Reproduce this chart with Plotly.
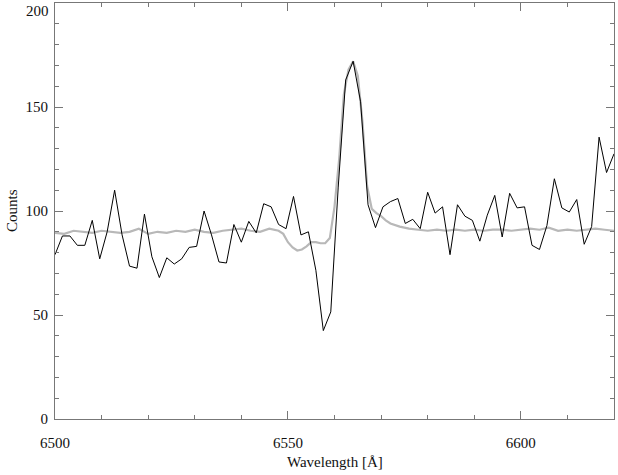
import plotly.graph_objects as go

# observed spectrum (black), ~1.6 A sampling
wave_obs = [6500.0, 6501.6, 6503.2, 6504.8, 6506.4, 6508.0, 6509.6, 6511.2, 6512.8, 6514.4,
            6516.0, 6517.6, 6519.2, 6520.8, 6522.4, 6524.0, 6525.6, 6527.2, 6528.8, 6530.4,
            6532.0, 6533.6, 6535.2, 6536.8, 6538.4, 6540.0, 6541.6, 6543.2, 6544.8, 6546.4,
            6548.0, 6549.6, 6551.2, 6552.8, 6554.4, 6556.0, 6557.6, 6559.2, 6560.8, 6562.4,
            6564.0, 6565.6, 6567.2, 6568.8, 6570.4, 6572.0, 6573.6, 6575.2, 6576.8, 6578.4,
            6580.0, 6581.6, 6583.2, 6584.8, 6586.4, 6588.0, 6589.6, 6591.2, 6592.8, 6594.4,
            6596.0, 6597.6, 6599.2, 6600.8, 6602.4, 6604.0, 6605.6, 6607.2, 6608.8, 6610.4,
            6612.0, 6613.6, 6615.2, 6616.8, 6618.4, 6620.0]
counts_obs = [79, 88, 88, 83.5, 83.5, 95.5, 77, 90, 110, 88.5,
              73.5, 72.5, 98.5, 78, 68, 77.5, 74.5, 77, 82.5, 83,
              100, 88.5, 75.5, 75, 93.5, 85, 95, 89.5, 103.5, 102,
              93.5, 91.5, 107, 88.5, 90, 71.5, 42.5, 51.5, 111.5, 163,
              172, 152.5, 103, 92, 102, 104.5, 106, 94, 96, 91.5,
              109, 99, 102, 79, 103, 97.5, 95.5, 85.5, 98, 107.5,
              87.5, 108.5, 101.5, 102, 83.5, 81.5, 93, 115.5, 101.5, 99.5,
              105.5, 84, 92.5, 135.5, 118.5, 127.5]

# model spectrum (grey)
wave_mod = [6500, 6502, 6504, 6506, 6508, 6510, 6512, 6514, 6516, 6518,
            6520, 6522, 6524, 6526, 6528, 6530, 6532, 6534, 6536, 6538,
            6540, 6542, 6544, 6546, 6548, 6549, 6550, 6551, 6552, 6553,
            6554, 6555, 6556, 6557, 6558, 6559, 6560, 6561, 6562, 6563,
            6564, 6565, 6566, 6567, 6568, 6569, 6570, 6571, 6572, 6574,
            6576, 6578, 6580, 6582, 6584, 6586, 6588, 6590, 6592, 6594,
            6596, 6598, 6600, 6602, 6604, 6606, 6608, 6610, 6612, 6614,
            6616, 6618, 6620]
counts_mod = [89.5, 89, 90.5, 90, 89.5, 90.5, 90, 89.5, 90, 91.5,
              89, 90, 89.5, 90.5, 90, 91, 90, 89.5, 90.5, 91,
              91.5, 90.5, 90, 91.5, 90.5, 89, 85, 82.5, 81, 81.5,
              83, 85, 85, 84.5, 84.5, 87, 102, 125, 156, 168,
              172, 165, 143, 112, 101, 99, 97.5, 95.5, 94, 92.5,
              91.5, 91, 90.5, 91, 90.5, 91, 90.5, 91, 90.5, 91,
              91, 90.5, 91, 91.5, 91, 92, 90.5, 91, 90.5, 91,
              91.5, 91, 90.5]

x_ticks = [6500, 6550, 6600]
y_ticks = [0, 50, 100, 150, 200]
y_labels = ['0', '50', '100', '150', '']  # top label drawn separately, nudged below the frame

serif = 'Times New Roman, Liberation Serif, serif'
label_font = dict(family=serif, size=15, color='#111')

fig = go.Figure()
fig.add_trace(go.Scatter(x=wave_mod, y=counts_mod, mode='lines',
                         line=dict(color='#b8b8b8', width=2.2)))
fig.add_trace(go.Scatter(x=wave_obs, y=counts_obs, mode='lines',
                         line=dict(color='black', width=1)))

axis_common = dict(
    showgrid=False, zeroline=False, automargin=False,
    showline=True, linecolor='#777', linewidth=1, mirror='allticks',
    ticks='inside', ticklen=8, tickcolor='#777', tickwidth=1,
    tickfont=label_font, ticklabeloverflow='allow',
    minor=dict(ticks='inside', ticklen=4, tickcolor='#777', dtick=10, showgrid=False),
)

fig.update_xaxes(range=[6500, 6620], tickvals=x_ticks, ticklabelstandoff=10, **axis_common)
fig.update_yaxes(range=[0, 200], tickvals=y_ticks, ticktext=y_labels,
                 ticklabelstandoff=3, **axis_common)

fig.add_annotation(text='200', xref='paper', yref='y', x=0, y=200,
                   xanchor='right', yanchor='middle', xshift=-4, yshift=-8,
                   showarrow=False, font=label_font)

# axis titles placed as annotations
fig.add_annotation(text='Wavelength [Å]', xref='paper', yref='paper', x=0.5, y=0,
                   yshift=-43, showarrow=False, yanchor='middle', font=label_font)
fig.add_annotation(text='Counts', xref='paper', yref='paper', x=0, y=0.5,
                   xshift=-43, showarrow=False, textangle=-90, xanchor='center',
                   font=label_font)

fig.update_layout(
    width=618, height=475,
    margin=dict(l=55, r=4, t=3, b=56, autoexpand=False),
    paper_bgcolor='white', plot_bgcolor='white',
    showlegend=False,
)

# drop the default page margin so the figure sits at the window origin
fig.write_html("out.html", config={'displayModeBar': False},
               post_script="document.body.style.margin='0';")
